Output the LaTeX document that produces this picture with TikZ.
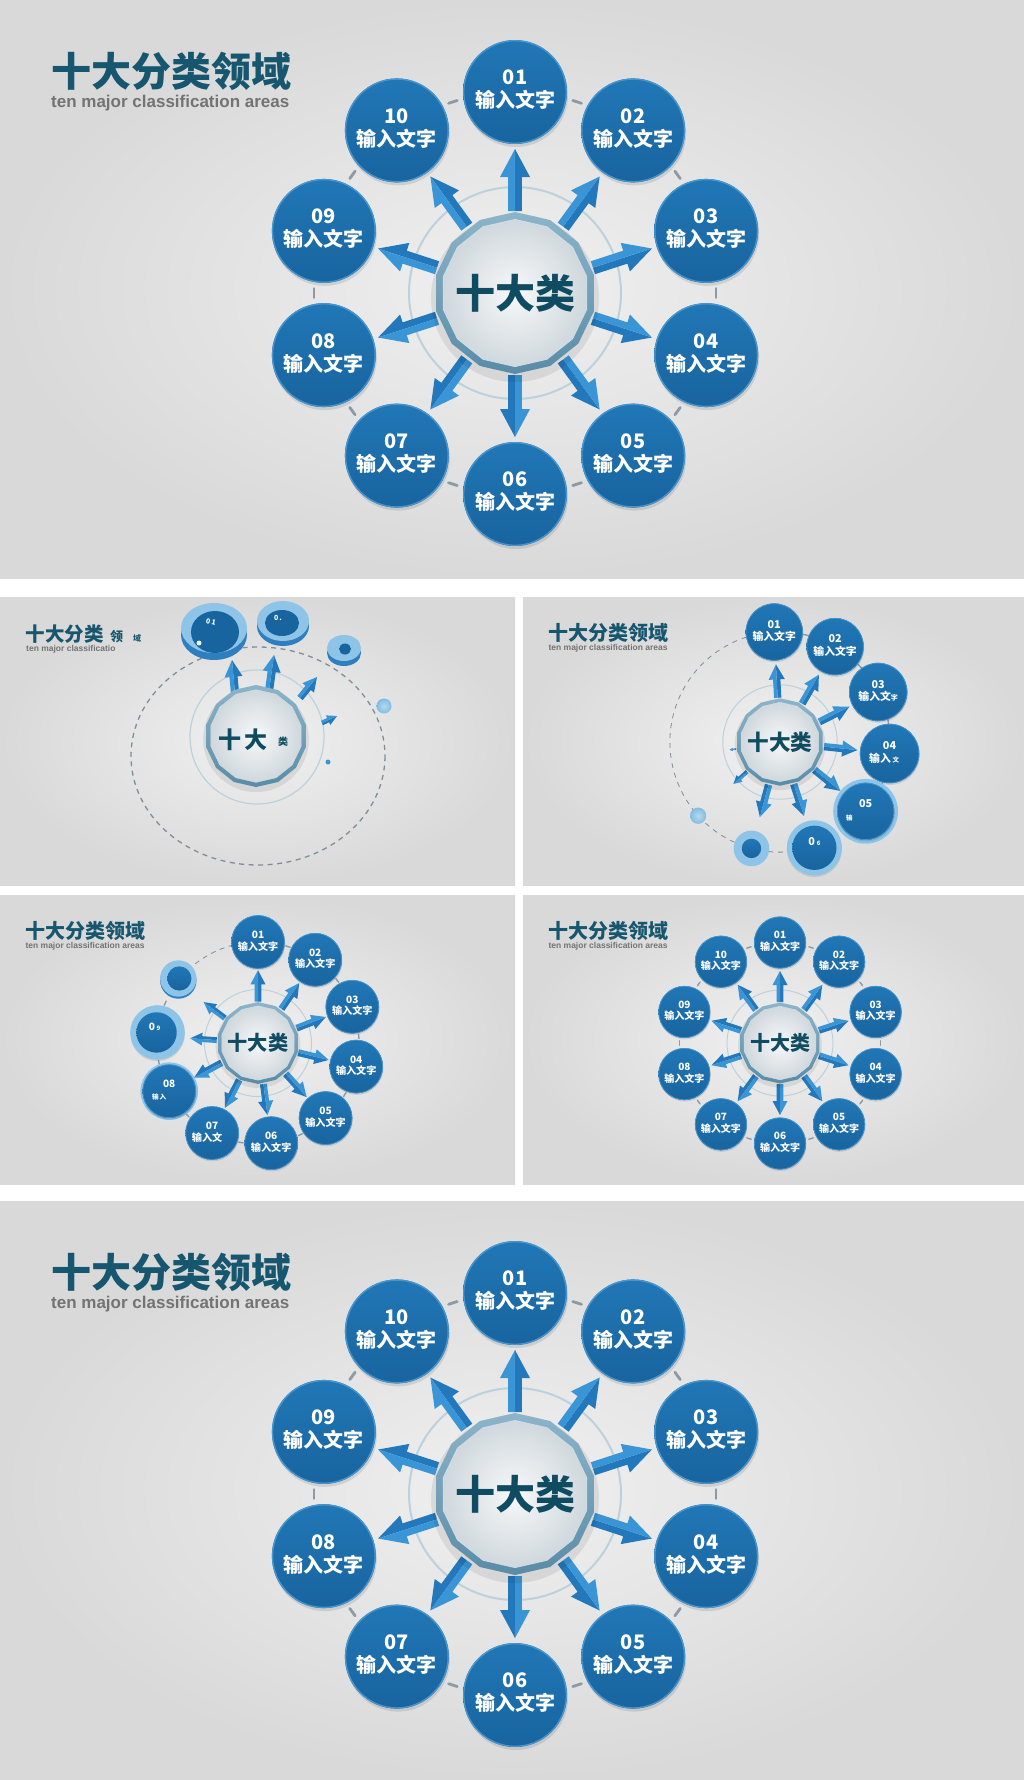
\documentclass[tikz,border=0pt]{standalone}
\usepackage{fontspec}
\setmainfont{Liberation Sans}
\newfontfamily\cjk{Noto Sans CJK SC}
\usetikzlibrary{shapes.geometric}

\definecolor{bgin}{HTML}{F0F0F0}
\definecolor{bgout}{HTML}{D9D9D9}
\definecolor{titlec}{HTML}{17566F}
\definecolor{subc}{HTML}{737373}
\definecolor{bluetop}{HTML}{2177B6}
\definecolor{bluebot}{HTML}{18649F}
\definecolor{bluerim}{HTML}{4796D0}
\definecolor{arrowA}{HTML}{2378BB}
\definecolor{arrowB}{HTML}{3A95D6}
\definecolor{ringc}{HTML}{BCD1DC}
\definecolor{polytop}{HTML}{8DB4C9}
\definecolor{polybot}{HTML}{5A8CA7}
\definecolor{polyin}{HTML}{F7F8F9}
\definecolor{polyout}{HTML}{D0D8DD}
\definecolor{hubtext}{HTML}{0F4B61}
\definecolor{tickc}{HTML}{8C9AA3}
\definecolor{dashc}{HTML}{7F8E97}
\definecolor{lightdisc}{HTML}{8DC4E8}
\definecolor{discside}{HTML}{2F7FC0}

\def\lwf{1}
\def\pfx{T}

\tikzset{
  bubtext/.style={text=white,font=\cjk\bfseries\fontsize{20}{23}\selectfont,align=center,inner sep=0pt},
  hubtextstyle/.style={text=hubtext,font=\cjk\bfseries\fontsize{40}{44}\selectfont,inner sep=0pt},
  titlestyle/.style={text=titlec,font=\cjk\bfseries\fontsize{40}{44}\selectfont,inner sep=0pt,anchor=west},
  substyle/.style={text=subc,font=\bfseries\fontsize{17}{20}\selectfont,inner sep=0pt,anchor=west},
  tickstyle/.style={draw=tickc,line width=2.8*\lwf,line cap=round},
  orbitdash/.style={draw=dashc,line width=1.6*\lwf},
  polyshape/.style={regular polygon,regular polygon sides=14,shape border rotate=12.857,inner sep=0pt},
  smalltext/.style={text=white,font=\cjk\bfseries\fontsize{7}{8}\selectfont,inner sep=0pt},
  lightball/.style={inner color=white!35!lightdisc,outer color=lightdisc!90!bluetop},
}

\newcommand{\panelbg}[4]{\shade[inner color=bgin,outer color=bgout] (#1,#2) rectangle (#3,#4);}

\newcommand{\slidetitle}{%
  \node[titlestyle] (\pfx title) at (51,71) {十大分类领域};
  \node[substyle] (\pfx sub) at (51,103) {ten major classification areas};}

\newcommand{\hubring}{\draw[ringc,line width=2*\lwf] (0,0) circle[radius=106];}

\newcommand{\hubpoly}{%
  \fill[black,opacity=0.08] (0,5) circle[radius=84];
  \node[polyshape,minimum size=162,top color=polytop,bottom color=polybot] (\pfx hubA) at (0,0) {};
  \node[polyshape,minimum size=147,inner color=polyin,outer color=polyout,draw=white!55!polytop,line width=1*\lwf] (\pfx hubB) at (0,0) {};}

\newcommand{\blockarrow}[5]{%
  \pgfmathsetmacro\bdx{(#3)-(#1)}%
  \pgfmathsetmacro\bdy{(#4)-(#2)}%
  \pgfmathsetmacro\bL{veclen(\bdx,\bdy)}%
  \pgfmathsetmacro\bang{atan2(-(\bdy),\bdx)}%
  \pgfmathsetmacro\bH{\bL-28*(#5)}%
  \pgfmathsetmacro\bw{6.8*(#5)}%
  \pgfmathsetmacro\bW{15*(#5)}%
  \begin{scope}[shift={(#1,#2)},rotate=\bang]
    \fill[arrowA] (0,0) -- (0,\bw) -- (\bH,\bw) -- (\bH,\bW) -- (\bL,0) -- cycle;
    \fill[arrowB] (0,0) -- (0,-\bw) -- (\bH,-\bw) -- (\bH,-\bW) -- (\bL,0) -- cycle;
  \end{scope}}

\newcommand{\hubarrow}[2]{%
  \pgfmathsetmacro\hax{82*sin(#1)}%
  \pgfmathsetmacro\hay{-82*cos(#1)}%
  \pgfmathsetmacro\hbx{(82+62*#2)*sin(#1)}%
  \pgfmathsetmacro\hby{-(82+62*#2)*cos(#1)}%
  \blockarrow{\hax}{\hay}{\hbx}{\hby}{#2}}

\newcommand{\orbittick}[2]{\draw[tickstyle] ({#2*sin(#1-1.3)},{-#2*cos(#1-1.3)}) -- ({#2*sin(#1+1.3)},{-#2*cos(#1+1.3)});}

\newcommand{\polarpt}[3]{\coordinate (#1) at ({#3*sin(#2)},{-#3*cos(#2)});}

\newcommand{\bubble}[5]{%
  \pgfmathsetmacro\bbx{#3*sin(#2)}%
  \pgfmathsetmacro\bby{-#3*cos(#2)}%
  \fill[black,opacity=0.10] (\bbx+1,\bby+3) circle[radius=#4];
  \shade[top color=bluetop,bottom color=bluebot] (\bbx,\bby) circle[radius=#4];
  \draw[bluerim,line width=1.3*\lwf] (\bbx,\bby) circle[radius=#4-0.7];
  \node[bubtext] (#1) at (\bbx,\bby-2) {#5};}

\newcommand{\fullset}{%
  \hubring
  \foreach \k in {0,...,9} {\orbittick{18+36*\k}{201}}
  \foreach \k in {0,...,9} {\hubarrow{36*\k}{1}}
  \hubpoly
  \node[hubtextstyle] (\pfx hubtext) at (0,0) {十大类};
  \foreach \k/\lab in {0/01,1/02,2/03,3/04,4/05,5/06,6/07,7/08,8/09,9/10}
    {\bubble{\pfx c\lab}{36*\k}{201}{52}{\lab\\输入文字}}}

\begin{document}
\begin{tikzpicture}[x=1pt,y=-1pt]
\useasboundingbox (0,0) rectangle (1024,1780);
\fill[white] (0,0) rectangle (1024,1780);

% ---------- top slide ----------
\begin{scope}
  \def\lwf{1}\def\pfx{T}
  \clip (0,0) rectangle (1024,578);
  \panelbg{0}{0}{1024}{578}
  \slidetitle
  \begin{scope}[shift={(515,293)}] \fullset \end{scope}
\end{scope}

% ---------- bottom slide ----------
\begin{scope}
  \def\lwf{1}\def\pfx{E}
  \clip (0,1201) rectangle (1024,1780);
  \panelbg{0}{1201}{1024}{1780}
  \begin{scope}[shift={(0,1201)}] \slidetitle \end{scope}
  \begin{scope}[shift={(515,1494)}] \fullset \end{scope}
\end{scope}

% ---------- frame D (final, small) ----------
\begin{scope}
  \def\lwf{0.5}\def\pfx{D}
  \clip (523,895) rectangle (1024,1184);
  \panelbg{523}{895}{1024}{1184}
  \begin{scope}[shift={(523,895)},scale=0.5,transform shape] \slidetitle \end{scope}
  \begin{scope}[shift={(780,1043)},scale=0.5,transform shape] \fullset \end{scope}
\end{scope}

% ---------- frame C ----------
\begin{scope}
  \def\lwf{0.5}\def\pfx{C}
  \clip (0,895) rectangle (515,1184);
  \panelbg{0}{895}{515}{1184}
  \begin{scope}[shift={(0,895)},scale=0.5,transform shape] \slidetitle \end{scope}
  \begin{scope}[shift={(258,1043)},scale=0.505,transform shape]
    \hubring
    \draw[orbitdash,dash pattern=on 5pt off 4.5pt] plot[domain=300:357,samples=30] ({200*sin(\x)},{-200*cos(\x)});
    \foreach \k in {0,...,8} {\orbittick{17.25+34.5*\k}{200}}
    \foreach \k in {0,...,7} {\hubarrow{34.5*\k}{1}}
    \hubarrow{274}{0.85}
    \hubarrow{307}{0.85}
    \hubpoly
    \node[hubtextstyle] (Chubtext) at (0,0) {十大类};
    \foreach \k/\lab in {0/01,1/02,2/03,3/04,4/05,5/06}
      {\bubble{Cc\lab}{34.5*\k}{200}{53}{\lab\\输入文字}}
    \bubble{Cc07}{207}{200}{53}{07\\输入文\hphantom{字}}
    \polarpt{Cp08}{241.5}{200}
    \fill[lightdisc] (Cp08) circle[radius=57];
    \bubble{Cc08}{241.5}{200}{53}{08\\{\fontsize{13}{15}\selectfont 输\,入}\hphantom{文字}}
    \polarpt{Cp09}{276}{200}
    \fill[black,opacity=0.1] ([yshift=-3pt]Cp09) circle[radius=54];
    \fill[lightdisc] (Cp09) circle[radius=54];
    \shade[top color=bluetop,bottom color=bluebot] ([xshift=-2pt]Cp09) circle[radius=40];
    \node[bubtext] (Cc09) at ([xshift=-6pt,yshift=12pt]Cp09) {0\,{\fontsize{12}{12}\selectfont 9}};
    \polarpt{Cp10}{309}{203}
    \fill[discside] ([yshift=-4pt]Cp10) circle[radius=36];
    \fill[lightdisc] (Cp10) circle[radius=36];
    \shade[top color=bluetop,bottom color=bluebot] ([xshift=2pt]Cp10) circle[radius=24];
  \end{scope}
\end{scope}

% ---------- frame B ----------
\begin{scope}
  \def\lwf{0.5}\def\pfx{B}
  \clip (523,597) rectangle (1024,885);
  \panelbg{523}{597}{1024}{885}
  \begin{scope}[shift={(523,597)},scale=0.5,transform shape] \slidetitle \end{scope}
  \begin{scope}[shift={(780,742)},scale=0.54,transform shape]
    \hubring
    \draw[orbitdash,dash pattern=on 5pt off 5pt] plot[domain=168:356,samples=60] ({204*sin(\x)},{-204*cos(\x)});
    \foreach \a in {13.5,46.5,79.5,112.5} {\orbittick{\a}{204}}
    \foreach \k in {0,...,6} {\hubarrow{-3+33*\k}{1}}
    \hubarrow{228}{0.55}
    \hubarrow{261}{0.2}
    \hubpoly
    \node[hubtextstyle] (Bhubtext) at (0,0) {十大类};
    \bubble{Bc01}{-3}{204}{53}{01\\输入文字}
    \bubble{Bc02}{30}{204}{53}{02\\输入文字}
    \bubble{Bc03}{63}{204}{54}{03\\输入文{\fontsize{13}{15}\selectfont 字}}
    \bubble{Bc04}{96}{204}{55}{04\\输入\,{\fontsize{12}{15}\selectfont 文}\hphantom{字}}
    \polarpt{Bp05}{129}{204}
    \fill[lightdisc] (Bp05) circle[radius=60];
    \bubble{Bc05}{129}{204}{53}{05\\{\fontsize{12}{15}\selectfont 输}\hphantom{入文字}}
    \polarpt{Bp06}{162}{206}
    \fill[black,opacity=0.1] ([yshift=-3pt]Bp06) circle[radius=51];
    \fill[lightdisc] (Bp06) circle[radius=51];
    \shade[top color=bluetop,bottom color=bluebot] (Bp06) circle[radius=41];
    \node[bubtext] (Bc06) at ([yshift=12pt]Bp06) {0\,{\fontsize{11}{11}\selectfont 6}};
    \polarpt{Bp07}{195}{204}
    \fill[lightdisc] (Bp07) circle[radius=33];
    \shade[top color=bluetop,bottom color=bluebot] (Bp07) circle[radius=18];
    \polarpt{Bp08}{228}{204}
    \shade[lightball] (Bp08) circle[radius=15];
  \end{scope}
\end{scope}

% ---------- frame A ----------
\begin{scope}
  \def\lwf{0.5}\def\pfx{A}
  \clip (0,597) rectangle (515,885);
  \panelbg{0}{597}{515}{885}
  \begin{scope}[shift={(0,597)}]
    \node[titlestyle,font=\cjk\bfseries\fontsize{19.5}{21}\selectfont] (Atitle) at (25.5,37) {十大分类};
    \node[titlestyle,font=\cjk\bfseries\fontsize{13}{14}\selectfont] (Atitle2) at (110,40) {领};
    \node[titlestyle,font=\cjk\bfseries\fontsize{8}{9}\selectfont] (Atitle3) at (133,41) {域};
    \node[substyle,font=\bfseries\fontsize{8.5}{10}\selectfont] (Asub) at (26,52) {ten major classificatio};
    \draw[orbitdash,line width=1.3,dash pattern=on 5pt off 4.5pt] (258,159) ellipse[x radius=127,y radius=109];
    \draw[ringc,line width=1.2] (257,140) circle[radius=67];
    \blockarrow{235}{96}{232}{63}{0.6}
    \blockarrow{269}{94}{274}{58}{0.6}
    \blockarrow{300}{101}{317}{80}{0.5}
    \blockarrow{322}{126}{337}{119}{0.35}
    \begin{scope}[shift={(256,139)},scale=0.63,transform shape]
      \hubpoly
    \end{scope}
    \node[hubtextstyle,font=\cjk\bfseries\fontsize{23}{24}\selectfont] (Ahub1) at (230,143) {十};
    \node[hubtextstyle,font=\cjk\bfseries\fontsize{23}{24}\selectfont] (Ahub2) at (256,143) {大};
    \node[hubtextstyle,font=\cjk\bfseries\fontsize{10}{11}\selectfont] (Ahub3) at (283,145) {类};
    % disc 01
    \fill[discside] (214,38) ellipse[x radius=33,y radius=25];
    \fill[lightdisc] (214,31) ellipse[x radius=33,y radius=25];
    \fill[bluebot] (215,35) ellipse[x radius=24,y radius=21];
    \node[smalltext,rotate=-12] (Ad01) at (211,25) {0\,1};
    \fill[white!80!lightdisc] (199,46) circle[radius=2.5];
    % disc 02
    \fill[discside] (283,29) ellipse[x radius=26,y radius=20];
    \fill[lightdisc] (283,24) ellipse[x radius=26,y radius=20];
    \fill[bluebot] (282,26) ellipse[x radius=17,y radius=13];
    \node[smalltext] (Ad02) at (278,21) {0\,.};
    % disc 03
    \fill[discside] (344,56) ellipse[x radius=17,y radius=13];
    \fill[lightdisc] (344,51) ellipse[x radius=17,y radius=13];
    \fill[bluebot] (345,52) ellipse[x radius=6,y radius=5.5];
    % ball 04 and dot
    \shade[lightball] (384,109) circle[radius=7.5];
    \fill[arrowB] (328,165) circle[radius=2.5];
  \end{scope}
\end{scope}

\end{tikzpicture}
\end{document}
